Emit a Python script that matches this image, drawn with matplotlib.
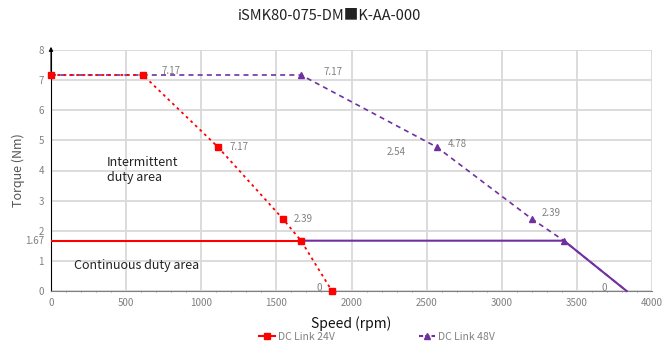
import matplotlib.pyplot as plt
from matplotlib.lines import Line2D
from matplotlib.ticker import MultipleLocator

plt.rcParams['font.family'] = ['Noto Sans CJK SC', 'DejaVu Sans']

# 24V peak curve
spd_24 = [0, 612, 1111, 1544, 1664, 1870]
trq_24 = [7.17, 7.17, 4.78, 2.39, 1.67, 0]
lbl_24 = ['', '7.17', '7.17', '2.39', '', '0']
# 48V peak curve
spd_48 = [0, 1664, 2567, 3201, 3414, 3831]
trq_48 = [7.17, 7.17, 4.78, 2.39, 1.67, 0]
lbl_48 = ['', '7.17', '4.78', '2.39', '', '0']
# continuous
cont_24_spd = [0, 1664]
cont_24_trq = [1.67, 1.67]
cont_48_spd = [1664, 3414, 3831]
cont_48_trq = [1.67, 1.67, 0]

RED = '#FF0000'
PURPLE = '#7030A0'
GRAY = '#808080'

fig = plt.figure(figsize=(6.63, 3.44), dpi=100)
ax = fig.add_axes([51/663, 53/344, 601/663, 241/344])

ax.set_xlim(0, 4000)
ax.set_ylim(0, 8)
ax.xaxis.set_major_locator(MultipleLocator(500))
ax.xaxis.set_minor_locator(MultipleLocator(100))
ax.yaxis.set_major_locator(MultipleLocator(1))
ax.grid(True, which='major', color='#D9D9D9', lw=1.3)
ax.set_axisbelow(True)
ax.tick_params(axis='both', labelsize=7, labelcolor=GRAY, length=0, pad=5)
ax.tick_params(axis='x', which='minor', length=2, color=GRAY, direction='inout')
ax.annotate('1.67', (0, 1.67), xytext=(-5, 0), textcoords='offset points',
            ha='right', va='center', fontsize=7, color=GRAY,
            annotation_clip=False)
for s in ['top', 'right']:
    ax.spines[s].set_visible(False)
ax.spines['bottom'].set_color(GRAY)
ax.spines['left'].set_color('black')
ax.spines['left'].set_linewidth(0.8)
ax.annotate('', xy=(0, 1.025), xycoords='axes fraction', xytext=(0, 0.9),
            arrowprops=dict(arrowstyle='-|>', color='black', lw=0.8,
                            mutation_scale=6), annotation_clip=False)

# 48V
ax.plot(spd_48, trq_48, color=PURPLE, lw=1.2, ls=(0, (3, 2.5)), zorder=3)
ax.plot(spd_48[1:5], trq_48[1:5], ls='none', marker='^', ms=5, color=PURPLE,
        zorder=4, clip_on=False)
ax.plot(cont_48_spd, cont_48_trq, color=PURPLE, lw=1.5, zorder=3, clip_on=False)

# 24V
ax.plot(spd_24, trq_24, color=RED, lw=1.3, ls=(0, (1.5, 2)), zorder=5)
ax.plot(spd_24, trq_24, ls='none', marker='s', ms=5, color=RED, zorder=6,
        clip_on=False)
ax.plot(cont_24_spd, cont_24_trq, color=RED, lw=1.5, zorder=5)

offs_24 = [(0, 0), (13, 3), (8, 0), (8, 0), (0, 0), (-7, 2)]
offs_48 = [(0, 0), (16, 2), (8, 2), (7, 4), (0, 0), (-14, 2)]
for x, y, t, o in zip(spd_24, trq_24, lbl_24, offs_24):
    if t:
        ax.annotate(t, (x, y), xytext=o, textcoords='offset points',
                    ha='left' if o[0] > 0 else 'right', va='center',
                    fontsize=7, color=GRAY)
for x, y, t, o in zip(spd_48, trq_48, lbl_48, offs_48):
    if t:
        ax.annotate(t, (x, y), xytext=o, textcoords='offset points',
                    ha='left' if o[0] > 0 else 'right', va='center',
                    fontsize=7, color=GRAY)
ax.text(2300, 4.6, '2.54', fontsize=7, color=GRAY, ha='center', va='center')

ax.text(370, 4.0, 'Intermittent\nduty area', fontsize=9, color='#222222',
        ha='left', va='center', linespacing=1.2)
ax.text(150, 0.85, 'Continuous duty area', fontsize=9, color='#222222',
        ha='left', va='center')

ax.set_xlabel('Speed (rpm)', fontsize=10, color='#111111', labelpad=6)
ax.set_ylabel('Torque (Nm)', fontsize=9, color='#555555', labelpad=10)
fig.text(330/663, 1 - 16/344, 'iSMK80-075-DM\u25a0K-AA-000', fontsize=10.5,
         color='#222222', ha='center', va='center')

handles = [
    Line2D([], [], color=RED, marker='s', ms=5, lw=1.5),
    Line2D([], [], color=PURPLE, marker='^', ms=5, lw=1.5, ls=(0, (2, 1))),
]
fig.legend(handles, ['DC Link 24V', 'DC Link 48V'], loc='center',
           bbox_to_anchor=(377/663, 1 - 337/344), ncol=2, frameon=False,
           fontsize=7.5, labelcolor=GRAY, handlelength=1.6, handletextpad=0.3,
           columnspacing=8)

fig.savefig('out.png', dpi=100)
